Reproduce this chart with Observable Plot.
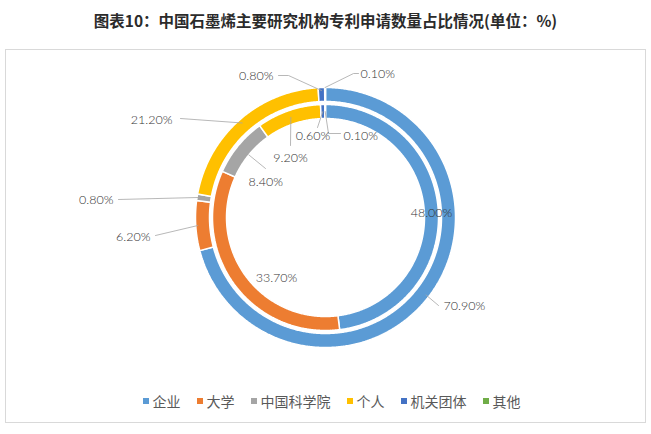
<!DOCTYPE html>
<html><head><meta charset="utf-8">
<script src="https://cdn.jsdelivr.net/npm/d3@7"></script>
<script src="https://cdn.jsdelivr.net/npm/@observablehq/plot@0.6"></script>
<style>
body{margin:0;background:#fff;}
#wrap{position:relative;width:651px;height:434px;overflow:hidden;background:#fff;font-family:"Noto Sans CJK SC","Noto Sans",sans-serif;}
#chart{position:absolute;left:0;top:0;}
#title{position:absolute;left:0;top:9px;width:651px;text-align:center;font-weight:bold;font-size:15.5px;line-height:22px;color:#2b2b2b;}
#legend{position:absolute;left:6px;width:651px;top:391px;height:20px;display:flex;justify-content:center;align-items:center;font-size:14px;color:#595959;}
#legend .item{display:flex;align-items:center;margin:0 8px;}
#legend .sw{width:6px;height:6px;margin-right:4px;}
</style></head>
<body><div id="wrap"><div id="chart"></div><div id="title"></div><div id="legend"></div></div>
<script>
// ---- data ----
const titleText = "图表10：中国石墨烯主要研究机构专利申请数量占比情况(单位：%)";
const categories = ["企业", "大学", "中国科学院", "个人", "机关团体", "其他"];
const palette = ["#5B9BD5", "#ED7D31", "#A5A5A5", "#FFC000", "#4472C4", "#70AD47"];
const outerValues = [70.9, 6.2, 0.8, 21.2, 0.8, 0.1];
const innerValues = [48.0, 33.7, 8.4, 9.2, 0.6, 0.1];

// ---- layout (pixels relative to ring centre) ----
const cx = 325, cy = 217, R = 130;
const ringRadii = {outer: [116, 130], inner: [99, 113]};
const labelLayout = {
  outer: [
    {dx: 118, dy: 88, anchor: "start", r0: 127, via: [[113, 88]]},
    {dx: -175, dy: 19, anchor: "end", r0: 128, via: [[-170, 18]]},
    {dx: -212, dy: -18, anchor: "end", r0: 128, via: [[-207, -18]]},
    {dx: -153, dy: -98, anchor: "end", r0: 126, via: [[-145, -99]]},
    {dx: -52, dy: -142, anchor: "end", r0: 127, via: [[-37, -142], [-47, -142]]},
    {dx: 35, dy: -144, anchor: "start", r0: 130, via: [[28, -144], [33, -144]]}
  ],
  inner: [
    {dx: 106, dy: -5, anchor: "middle"},
    {dx: -49, dy: 60, anchor: "middle"},
    {dx: -77, dy: -36, anchor: "start", r0: 99, via: [[-60, -49]]},
    {dx: -35, dy: -60, anchor: "middle", r0: 106, via: [[-35, -72]]},
    {dx: -12.5, dy: -82, anchor: "middle", r0: 106, via: [[-8, -90]]},
    {dx: 18, dy: -82, anchor: "start", r0: 106, via: [[3, -84], [15, -84]]}
  ]
};

const rings = {outer: outerValues, inner: innerValues};
const rad = d => d * Math.PI / 180;
const polar = (deg, r) => [r * Math.sin(rad(deg)) / R, -r * Math.cos(rad(deg)) / R];

const arcRows = [], leaderRows = [], labelRows = [];
for (const ring of ["outer", "inner"]) {
  const vals = rings[ring];
  const total = d3.sum(vals);
  const [r0, r1] = ringRadii[ring];
  let acc = 0;
  vals.forEach((v, i) => {
    const a0 = acc / total * 360, a1 = (acc + v) / total * 360;
    acc += v;
    const key = ring + i;
    const n = Math.max(2, Math.ceil((a1 - a0) / 0.5));
    const pts = [];
    for (let k = 0; k <= n; k++) pts.push(polar(a0 + (a1 - a0) * k / n, r1));
    for (let k = n; k >= 0; k--) pts.push(polar(a0 + (a1 - a0) * k / n, r0));
    pts.forEach(([x, y]) => arcRows.push({key, name: categories[i], x, y}));
    const L = labelLayout[ring][i];
    const mid = (a0 + a1) / 2;
    labelRows.push({x: L.dx / R, y: L.dy / R, anchor: L.anchor, text: d3.format(".2f")(v) + "%"});
    if (L.via) {
      const [sx, sy] = polar(mid, L.r0);
      leaderRows.push({key, x: sx, y: sy});
      L.via.forEach(([x, y]) => leaderRows.push({key, x: x / R, y: y / R}));
    }
  });
}

const textOpts = {x: "x", y: "y", text: "text", fontSize: 12.5, fontWeight: 300, fill: "#333", fontFamily: "Lato, 'Noto Sans', sans-serif"};
const chart = Plot.plot({
  width: 651, height: 434,
  marginLeft: 5, marginRight: 6, marginTop: 49, marginBottom: 12,
  x: {domain: [-1, 1], range: [cx - R, cx + R], axis: null},
  y: {domain: [-1, 1], range: [cy - R, cy + R], axis: null},
  color: {domain: categories, range: palette},
  style: {background: "white", overflow: "visible"},
  marks: [
    Plot.frame({stroke: "#d9d9d9"}),
    Plot.line(arcRows, {x: "x", y: "y", z: "key", fill: "name", stroke: "white", strokeWidth: 1.5, strokeLinejoin: "miter", curve: "linear-closed"}),
    Plot.line(leaderRows, {x: "x", y: "y", z: "key", stroke: "#a6a6a6", strokeWidth: 0.8}),
    Plot.text(labelRows.filter(d => d.anchor === "start"), {...textOpts, textAnchor: "start"}),
    Plot.text(labelRows.filter(d => d.anchor === "end"), {...textOpts, textAnchor: "end"}),
    Plot.text(labelRows.filter(d => d.anchor === "middle"), {...textOpts, textAnchor: "middle"})
  ]
});
document.getElementById("chart").appendChild(chart);
document.getElementById("title").textContent = titleText;
const legend = document.getElementById("legend");
categories.forEach((c, i) => {
  const item = document.createElement("div");
  item.className = "item";
  item.innerHTML = `<span class="sw" style="background:${palette[i]}"></span><span>${c}</span>`;
  legend.appendChild(item);
});
</script></body></html>
